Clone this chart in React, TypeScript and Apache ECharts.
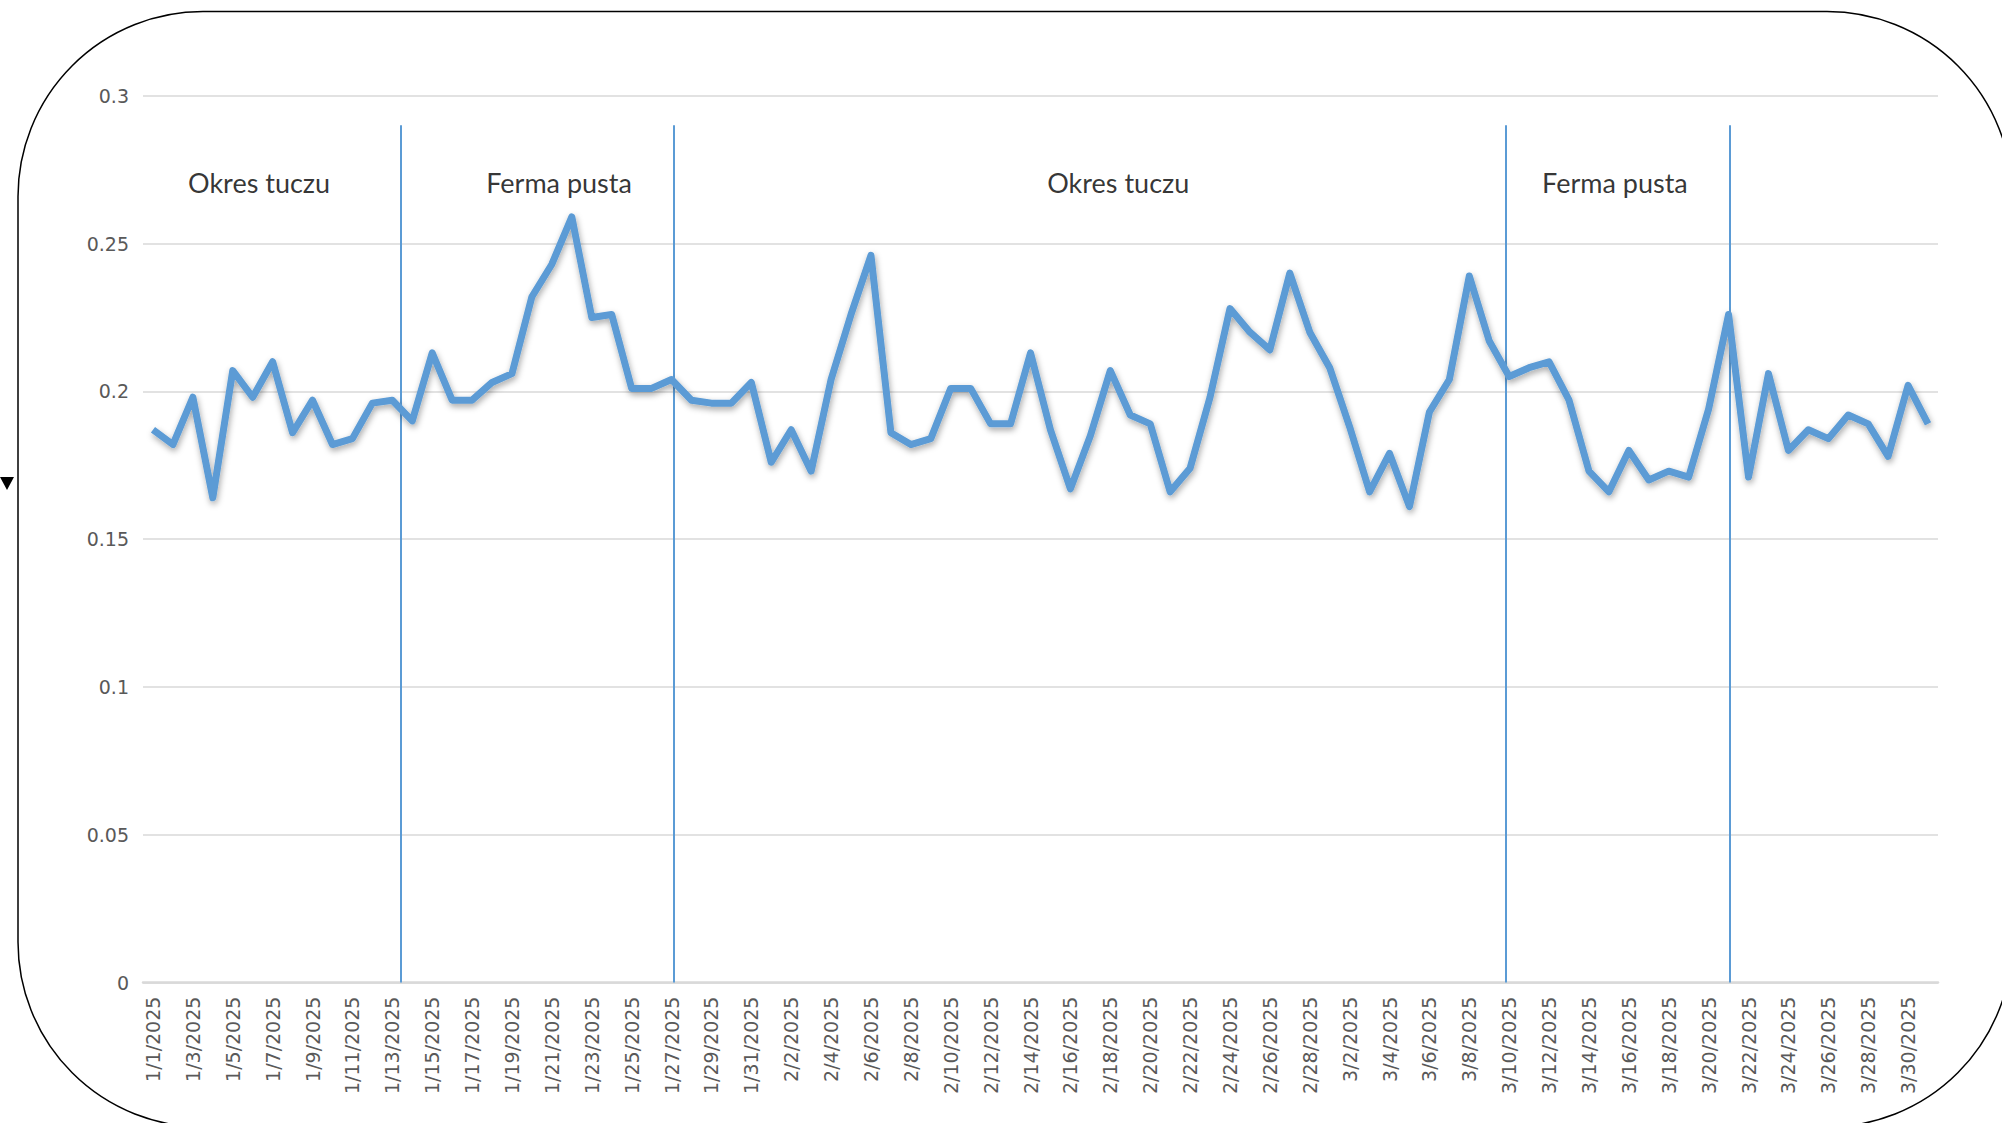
import React, { useEffect, useRef } from "react";
import * as echarts from "echarts";

const dates: string[] = [
  "1/1/2025", "1/2/2025", "1/3/2025", "1/4/2025", "1/5/2025", "1/6/2025", "1/7/2025", "1/8/2025", "1/9/2025", "1/10/2025",
  "1/11/2025", "1/12/2025", "1/13/2025", "1/14/2025", "1/15/2025", "1/16/2025", "1/17/2025", "1/18/2025", "1/19/2025", "1/20/2025",
  "1/21/2025", "1/22/2025", "1/23/2025", "1/24/2025", "1/25/2025", "1/26/2025", "1/27/2025", "1/28/2025", "1/29/2025", "1/30/2025",
  "1/31/2025", "2/1/2025", "2/2/2025", "2/3/2025", "2/4/2025", "2/5/2025", "2/6/2025", "2/7/2025", "2/8/2025", "2/9/2025",
  "2/10/2025", "2/11/2025", "2/12/2025", "2/13/2025", "2/14/2025", "2/15/2025", "2/16/2025", "2/17/2025", "2/18/2025", "2/19/2025",
  "2/20/2025", "2/21/2025", "2/22/2025", "2/23/2025", "2/24/2025", "2/25/2025", "2/26/2025", "2/27/2025", "2/28/2025", "3/1/2025",
  "3/2/2025", "3/3/2025", "3/4/2025", "3/5/2025", "3/6/2025", "3/7/2025", "3/8/2025", "3/9/2025", "3/10/2025", "3/11/2025",
  "3/12/2025", "3/13/2025", "3/14/2025", "3/15/2025", "3/16/2025", "3/17/2025", "3/18/2025", "3/19/2025", "3/20/2025", "3/21/2025",
  "3/22/2025", "3/23/2025", "3/24/2025", "3/25/2025", "3/26/2025", "3/27/2025", "3/28/2025", "3/29/2025", "3/30/2025", "3/31/2025",
];

const values: number[] = [
  0.187, 0.182, 0.198, 0.164, 0.207, 0.198, 0.210, 0.186, 0.197, 0.182,
  0.184, 0.196, 0.197, 0.190, 0.213, 0.197, 0.197, 0.203, 0.206, 0.232,
  0.243, 0.259, 0.225, 0.226, 0.201, 0.201, 0.204, 0.197, 0.196, 0.196,
  0.203, 0.176, 0.187, 0.173, 0.204, 0.226, 0.246, 0.186, 0.182, 0.184,
  0.201, 0.201, 0.189, 0.189, 0.213, 0.187, 0.167, 0.185, 0.207, 0.192,
  0.189, 0.166, 0.174, 0.198, 0.228, 0.220, 0.214, 0.240, 0.220, 0.208,
  0.188, 0.166, 0.179, 0.161, 0.193, 0.204, 0.239, 0.217, 0.205, 0.208,
  0.210, 0.197, 0.173, 0.166, 0.180, 0.170, 0.173, 0.171, 0.194, 0.226,
  0.171, 0.206, 0.180, 0.187, 0.184, 0.192, 0.189, 0.178, 0.202, 0.189,
];

// Divider positions, in day units from the start of the axis (0 = left edge, 90 = right edge)
const dividerPositions: number[] = [12.92, 26.61, 68.35, 79.57];
const dividerTop = 0.29;

// Period annotations
const periodNames: string[] = ["Okres tuczu", "Ferma pusta", "Okres tuczu", "Ferma pusta"];
const periodCenters: number[] = [5.82, 20.86, 48.9, 73.8];
const periodLabelLevel = 0.2705;

const yMin = 0;
const yMax = 0.3;
const yStep = 0.05;

export default function App() {
  const ref = useRef<HTMLDivElement>(null);

  useEffect(() => {
    if (!ref.current) return;
    const chart = echarts.init(ref.current, undefined, { renderer: "svg" });

    const option: any = {
      animation: false,
      backgroundColor: "#ffffff",
      grid: { left: 143, right: 64, top: 95.7, bottom: 140.4, containLabel: false },
      xAxis: [
        {
          type: "category",
          data: dates,
          boundaryGap: true,
          axisLine: { show: true, lineStyle: { color: "#d9d9d9", width: 2.5 } },
          axisTick: { show: false },
          splitLine: { show: false },
          axisLabel: {
            interval: 1,
            rotate: 90,
            color: "#595959",
            fontFamily: "DejaVu Sans",
            fontSize: 19,
            margin: 14,
          },
        },
        { type: "value", min: 0, max: dates.length, show: false },
      ],
      yAxis: {
        type: "value",
        min: yMin,
        max: yMax,
        interval: yStep,
        axisLine: { show: false },
        axisTick: { show: false },
        splitLine: { lineStyle: { color: "#d9d9d9", width: 1.5 } },
        axisLabel: {
          color: "#595959",
          fontFamily: "DejaVu Sans",
          fontSize: 19,
          margin: 14,
          formatter: (v: number) => String(+v.toFixed(2)),
        },
      },
      series: [
        {
          type: "line",
          xAxisIndex: 0,
          data: values,
          symbol: "none",
          z: 5,
          lineStyle: {
            color: "#5b9bd5",
            width: 7,
            join: "round",
            shadowColor: "rgba(0,0,0,0.35)",
            shadowBlur: 6,
            shadowOffsetX: 1,
            shadowOffsetY: 3,
          },
        },
        {
          type: "scatter",
          xAxisIndex: 1,
          symbolSize: 0,
          itemStyle: { color: "transparent" },
          z: 4,
          data: periodNames.map((n, i) => ({ name: n, value: [periodCenters[i], periodLabelLevel] })),
          label: {
            show: true,
            position: "inside",
            formatter: "{b}",
            color: "#000000",
            fontFamily: "Lato",
            fontSize: 27,
          },
          markLine: {
            silent: true,
            symbol: ["none", "none"],
            label: { show: false },
            lineStyle: { color: "#5b9bd5", width: 2, type: "solid" },
            data: dividerPositions.map((x) => [
              { coord: [x, yMin] },
              { coord: [x, dividerTop] },
            ]),
          },
        },
      ],
      graphic: [
        {
          type: "rect",
          shape: { x: 18, y: 11.5, width: 1994, height: 1115.5, r: 185 },
          style: { fill: "none", stroke: "#000000", lineWidth: 1.5 },
          silent: true,
          z: 10,
        },
        {
          type: "polygon",
          shape: { points: [[0, 477], [14, 477], [7, 490]] },
          style: { fill: "#000000" },
          silent: true,
          z: 10,
        },
      ],
    };

    chart.setOption(option);
    return () => chart.dispose();
  }, []);

  return (
    <div
      ref={ref}
      style={{ position: "fixed", left: 0, top: 0, width: 2002, height: 1123, background: "#ffffff" }}
    />
  );
}
